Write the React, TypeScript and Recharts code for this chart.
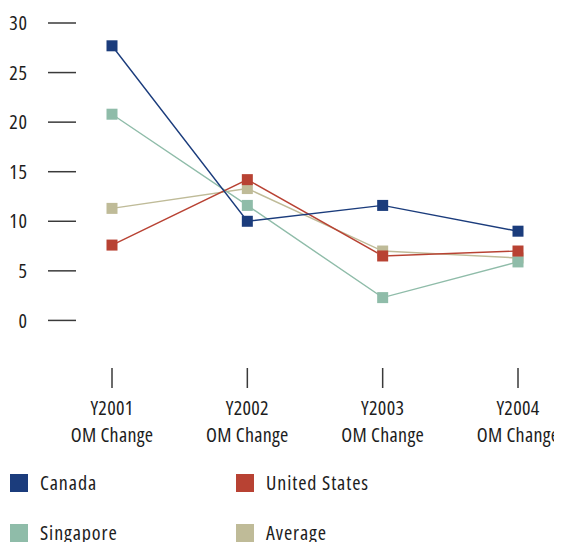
import React from 'react';
import { LineChart, Line, XAxis, YAxis, Legend } from 'recharts';

const categories = ['Y2001', 'Y2002', 'Y2003', 'Y2004'];
const subLabel = 'OM Change';
const canada = [27.7, 10.0, 11.6, 9.0];
const unitedStates = [7.6, 14.2, 6.5, 7.0];
const singapore = [20.8, 11.6, 2.3, 5.9];
const average = [11.3, 13.3, 7.0, 6.3];
const yTicks = [0, 5, 10, 15, 20, 25, 30];

const series = [
  { key: 'canada', name: 'Canada', color: '#1b3c7c', values: canada },
  { key: 'us', name: 'United States', color: '#b84233', values: unitedStates },
  { key: 'singapore', name: 'Singapore', color: '#8fbca9', values: singapore },
  { key: 'average', name: 'Average', color: '#bfbb98', values: average },
];
const drawOrder = ['average', 'singapore', 'us', 'canada'];

const data = categories.map((c, i) => {
  const row: Record<string, any> = { category: c };
  series.forEach((s) => {
    row[s.key] = s.values[i];
  });
  return row;
});

const FONT = '"Open Sans", sans-serif';
const FSTYLE: React.CSSProperties = { fontStretch: '75%', letterSpacing: '0.9px' };
const XSTYLE: React.CSSProperties = { fontStretch: '75%', letterSpacing: '0.3px' };
const FSIZE = 20;
const TEXT = '#1d1d1d';
const AXIS = '#3a3a3a';

const SquareDot = (color: string) => (props: any) => {
  const { cx, cy, index } = props;
  if (cx == null || cy == null) return <g key={index} />;
  return <rect key={index} x={cx - 5.5} y={cy - 5.5} width={11} height={11} fill={color} />;
};

const XTick = (props: any) => {
  const { x, y, payload } = props;
  return (
    <text x={x} y={y} textAnchor="middle" fill={TEXT} fontFamily={FONT} fontSize={FSIZE} style={XSTYLE}>
      <tspan x={x} dy={25}>{payload.value}</tspan>
      <tspan x={x} dy={27}>{subLabel}</tspan>
    </text>
  );
};

const YTick = (props: any) => {
  const { x, y, payload } = props;
  return (
    <text x={x} y={y} dy="0.36em" textAnchor="end" fill={TEXT} fontFamily={FONT} fontSize={FSIZE} style={FSTYLE}>
      {payload.value}
    </text>
  );
};

const LegendContent = () => {
  const pos = [
    { left: 2, top: 0 },
    { left: 228, top: 0 },
    { left: 2, top: 50 },
    { left: 228, top: 50 },
  ];
  return (
    <div style={{ position: 'relative', width: 554, height: 68, fontFamily: FONT, fontSize: FSIZE, color: TEXT, ...FSTYLE }}>
      {series.map((s, i) => (
        <div key={s.key} style={{ position: 'absolute', left: pos[i].left, top: pos[i].top, height: 18, display: 'flex', alignItems: 'center' }}>
          <div style={{ width: 18, height: 18, background: s.color }} />
          <span style={{ marginLeft: 12, lineHeight: '18px', whiteSpace: 'nowrap' }}>{s.name}</span>
        </div>
      ))}
    </div>
  );
};

export default function App() {
  return (
    <>
      <style>{'html, body { overflow: hidden; } .recharts-wrapper, .recharts-surface { overflow: visible !important; }'}</style>
      <LineChart
        width={554}
        height={534}
        data={data}
        margin={{ top: 15, right: 8, bottom: 94, left: 0 }}
      >
        <XAxis
          dataKey="category"
          axisLine={false}
          tickSize={20}
          tickLine={{ stroke: AXIS, strokeWidth: 1.5 }}
          tick={<XTick />}
          height={80}
          padding={{ left: 36, right: 36 }}
          interval={0}
        />
        <YAxis
          domain={[-4.8, 30]}
          ticks={yTicks}
          axisLine={false}
          tickSize={28}
          tickMargin={20}
          tickLine={{ stroke: AXIS, strokeWidth: 1.5 }}
          tick={<YTick />}
          width={68}
          allowDataOverflow
        />
        {drawOrder.map((k) => {
          const s = series.find((x) => x.key === k)!;
          return (
            <Line
              key={s.key}
              dataKey={s.key}
              name={s.name}
              stroke={s.color}
              strokeWidth={1.4}
              dot={SquareDot(s.color)}
              activeDot={false}
              isAnimationActive={false}
              type="linear"
            />
          );
        })}
        <Legend
          layout="horizontal"
          verticalAlign="middle"
          align="center"
          wrapperStyle={{ top: 466, left: 0, width: 554, height: 68 }}
          content={<LegendContent />}
        />
      </LineChart>
    </>
  );
}
